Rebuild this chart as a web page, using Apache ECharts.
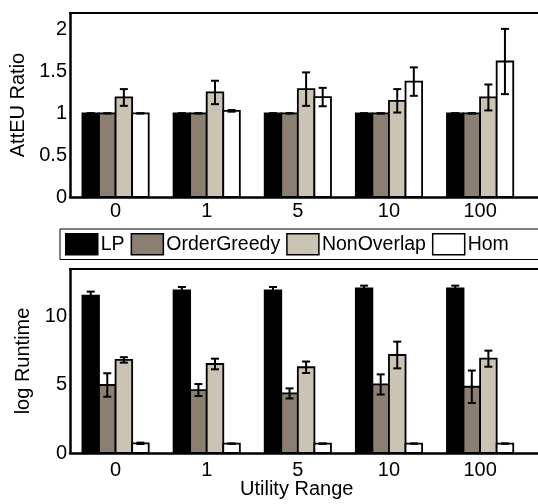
<!DOCTYPE html>
<html>
<head>
<meta charset="utf-8">
<script src="https://cdn.jsdelivr.net/npm/echarts@6/dist/echarts.min.js"></script>
<style>
  html, body {margin: 0; padding: 0; background: #fff;}
</style>
</head>
<body>
<div id="Bars" style="width: 538px;height: 504px;"></div>
<script>
// categories / legend
const categories = ['0', '1', '5', '10', '100']
const methods = ['LP', 'OrderGreedy', 'NonOverlap', 'Hom']
const colors = ['#000000', '#8b7f71', '#cbc3b4', '#ffffff']

// AttEU ratio (top panel)
const ratioLP = [1, 1, 1, 1, 1]
const ratioLPErr = [0, 0, 0, 0, 0]
const ratioGreedy = [1, 1, 1, 1, 1]
const ratioGreedyErr = [0, 0, 0, 0, 0]
const ratioNonOverlap = [1.19, 1.25, 1.29, 1.15, 1.19]
const ratioNonOverlapErr = [0.10, 0.14, 0.20, 0.14, 0.155]
const ratioHom = [1.0, 1.03, 1.195, 1.38, 1.62]
const ratioHomErr = [0, 0.01, 0.11, 0.17, 0.39]

// log runtime (bottom panel)
const runLP = [11.54, 11.93, 11.93, 12.08, 12.08]
const runLPErr = [0.3, 0.25, 0.25, 0.2, 0.2]
const runGreedy = [4.99, 4.62, 4.37, 5.03, 4.86]
const runGreedyErr = [0.86, 0.44, 0.37, 0.74, 1.19]
const runNonOverlap = [6.83, 6.53, 6.29, 7.19, 6.92]
const runNonOverlapErr = [0.2, 0.39, 0.42, 0.98, 0.59]
const runHom = [0.71, 0.69, 0.69, 0.69, 0.69]
const runHomErr = [0.05, 0, 0, 0, 0]

// tick labels
const ratioTicks = ['0', '0.5', '1', '1.5', '2']
const runTicks = ['0', '5', '10']

const ratioVals = [ratioLP, ratioGreedy, ratioNonOverlap, ratioHom]
const ratioErrs = [ratioLPErr, ratioGreedyErr, ratioNonOverlapErr, ratioHomErr]
const runVals = [runLP, runGreedy, runNonOverlap, runHom]
const runErrs = [runLPErr, runGreedyErr, runNonOverlapErr, runHomErr]

const BAR_W = 4 / 5.5 / 4   // matlab grouped bar width
const FONT = 'Liberation Sans, Arial, Helvetica, sans-serif'

const barRenderer = (k) => {
  return function (params, api) {
    const x = api.value(0) + (k - 1.5) * BAR_W
    const v = api.value(1)
    const e = api.value(2)
    const a = api.coord([x - BAR_W / 2, 0])
    const b = api.coord([x + BAR_W / 2, v])
    const lo = api.coord([x, v - e])
    const hi = api.coord([x, v + e])
    const cap = 4
    return {
      type: 'group',
      children: [
        {
          type: 'rect',
          shape: {x: a[0], y: b[1], width: b[0] - a[0], height: a[1] - b[1]},
          style: {fill: colors[k], stroke: '#000', lineWidth: 1.8},
        },
        {
          type: 'line',
          shape: {x1: lo[0], y1: lo[1], x2: hi[0], y2: hi[1]},
          style: {stroke: '#000', lineWidth: 2},
        },
        {
          type: 'line',
          shape: {x1: hi[0] - cap, y1: hi[1], x2: hi[0] + cap, y2: hi[1]},
          style: {stroke: '#000', lineWidth: 2},
        },
        {
          type: 'line',
          shape: {x1: lo[0] - cap, y1: lo[1], x2: lo[0] + cap, y2: lo[1]},
          style: {stroke: '#000', lineWidth: 2},
        },
      ],
    }
  }
}

const makeSeries = (vals, errs, axisIdx) => {
  return methods.map((name, k) => ({
    name: name,
    type: 'custom',
    xAxisIndex: axisIdx * 2,
    yAxisIndex: axisIdx,
    itemStyle: {color: colors[k]},
    renderItem: barRenderer(k),
    encode: {x: 0, y: 1},
    data: categories.map((c, i) => [i + 1, vals[k][i], errs[k][i]]),
  }))
}

const xLabel = (v) => {
  return Number.isInteger(v) && v >= 1 && v <= categories.length ? categories[v - 1] : ''
}

const bottomX = (grid, margin) => ({
  type: 'value',
  gridIndex: grid,
  min: 0.5,
  max: 5.8,
  interval: 0.5,
  axisLine: {show: true, onZero: false, lineStyle: {color: '#000', width: 2.5}},
  axisTick: {show: false},
  splitLine: {show: false},
  axisLabel: {color: '#000', fontSize: 20, fontFamily: FONT, margin: margin, formatter: xLabel},
})

const topX = (grid) => ({
  type: 'value',
  gridIndex: grid,
  position: 'top',
  min: 0.5,
  max: 5.8,
  axisLine: {show: true, onZero: false, lineStyle: {color: '#000', width: 2}},
  axisTick: {show: false},
  axisLabel: {show: false},
  splitLine: {show: false},
})

const yAxisOf = (grid, name, max, interval, ticks) => ({
  type: 'value',
  gridIndex: grid,
  name: name,
  nameLocation: 'middle',
  nameGap: 30,
  nameTextStyle: {color: '#000', fontSize: 20, fontFamily: FONT},
  min: 0,
  max: max,
  interval: interval,
  axisLine: {show: true, lineStyle: {color: '#000', width: 2.5}},
  axisTick: {show: false},
  splitLine: {show: false},
  axisLabel: {
    color: '#000', fontSize: 20, fontFamily: FONT, margin: 3,
    showMaxLabel: false,
    formatter: (v) => {
      const s = String(v)
      return ticks.indexOf(s) >= 0 ? s : ''
    },
  },
})

const dom = document.getElementById('Bars')
const myChart = echarts.init(dom, null, {renderer: 'canvas'})
const option = {
  animation: false,
  backgroundColor: '#fff',
  textStyle: {fontFamily: FONT},
  title: {
    text: 'Utility Range',
    left: 240,
    top: 479,
    padding: 0,
    textStyle: {color: '#000', fontSize: 20, fontWeight: 'normal', fontFamily: FONT},
  },
  legend: {
    left: 60,
    top: 229,
    width: 520,
    orient: 'horizontal',
    padding: [4, 40, 4, 5],
    itemGap: 6,
    itemWidth: 32,
    itemHeight: 21,
    borderColor: '#000',
    borderWidth: 1,
    selectedMode: false,
    textStyle: {color: '#000', fontSize: 19.5, fontFamily: FONT, padding: [0, 0, 0, -2]},
    data: methods.map((m, k) => ({
      name: m,
      icon: 'rect',
      itemStyle: {color: colors[k], borderColor: '#000', borderWidth: 1.5},
    })),
  },
  grid: [
    {left: 70, right: -15, top: 13, height: 184, outerBoundsMode: 'none'},
    {left: 70, right: -15, top: 269, height: 184, outerBoundsMode: 'none'},
  ],
  xAxis: [bottomX(0, 4), topX(0), bottomX(1, 7), topX(1)],
  yAxis: [
    yAxisOf(0, 'AttEU Ratio', 2.2, 0.5, ratioTicks),
    yAxisOf(1, 'log Runtime', 13.5, 5, runTicks),
  ],
  series: makeSeries(ratioVals, ratioErrs, 0).concat(makeSeries(runVals, runErrs, 1)),
}
myChart.setOption(option)
window.addEventListener('resize', function () {
  myChart.resize()
})
</script>
</body>
</html>
